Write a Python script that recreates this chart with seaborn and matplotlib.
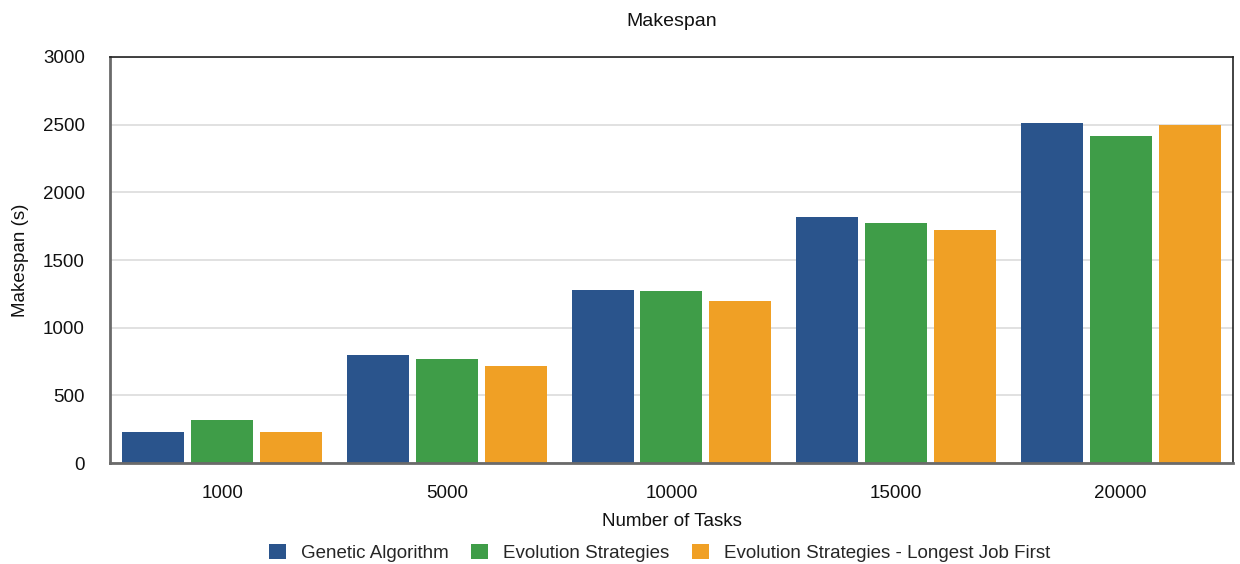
import matplotlib
matplotlib.use("Agg")
import matplotlib.pyplot as plt
import seaborn as sns
import pandas as pd

tasks = ["1000", "5000", "10000", "15000", "20000"]
genetic_algorithm = [230, 800, 1275, 1820, 2510]
evolution_strategies = [320, 770, 1270, 1770, 2415]
es_longest_job_first = [230, 718, 1200, 1725, 2500]
series_names = ["Genetic Algorithm", "Evolution Strategies",
                "Evolution Strategies - Longest Job First"]
colors = ["#2A548C", "#3F9D48", "#F0A025"]

rows = []
for name, vals in zip(series_names,
                      [genetic_algorithm, evolution_strategies, es_longest_job_first]):
    for t, v in zip(tasks, vals):
        rows.append({"Tasks": t, "Makespan": v, "Algorithm": name})
df = pd.DataFrame(rows)

sns.set_theme(style="white")
plt.rcParams["font.family"] = ["Liberation Sans", "DejaVu Sans"]

fig = plt.figure(figsize=(12.4, 5.64), dpi=100)
ax = fig.add_axes([0.0887, 0.179, 0.9056, 0.72])

sns.barplot(data=df, x="Tasks", y="Makespan", hue="Algorithm",
            order=tasks, hue_order=series_names, palette=colors,
            width=0.92, gap=0.1, saturation=1, edgecolor="none",
            ax=ax, legend=True)

ax.set_ylim(0, 3000)
ax.set_yticks(range(0, 3001, 500))
ax.yaxis.grid(True, color="#dcdcdc", linewidth=1.2)
ax.set_axisbelow(True)
ax.tick_params(axis="both", length=0, labelsize=13.5, colors="#111111")
ax.tick_params(axis="x", pad=16)
ax.tick_params(axis="y", pad=18)

for side in ["left", "bottom"]:
    ax.spines[side].set_color("#6a6a6a")
    ax.spines[side].set_linewidth(2)
for side in ["top", "right"]:
    ax.spines[side].set_color("#222222")
    ax.spines[side].set_linewidth(1.2)

ax.set_title("Makespan", fontsize=14, pad=22, color="#111111")
ax.set_xlabel("Number of Tasks", fontsize=13.5, labelpad=8, color="#111111")
ax.set_ylabel("Makespan (s)", fontsize=13.5, labelpad=10, color="#111111")

handles, labels = ax.get_legend_handles_labels()
ax.get_legend().remove()
fig.legend(handles, labels, loc="center", bbox_to_anchor=(0.532, 0.02),
           ncol=3, frameon=False, fontsize=13.5, handlelength=0.9,
           handleheight=0.9, handletextpad=0.8, columnspacing=1.2)

fig.savefig("out.png", dpi=100)
